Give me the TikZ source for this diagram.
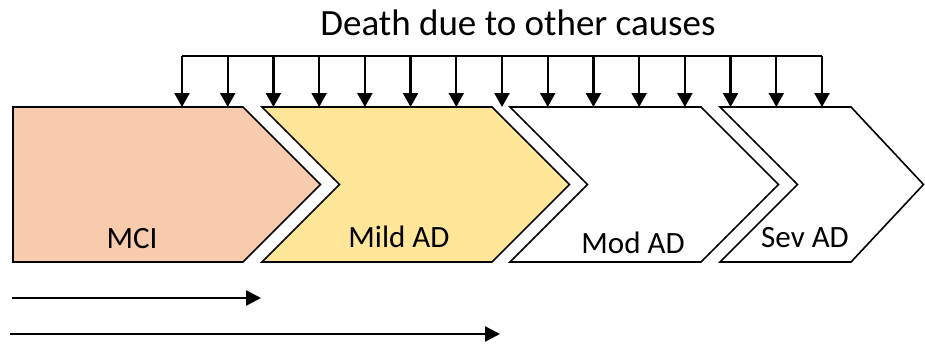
\documentclass[tikz,border=0pt]{standalone}
\usepackage{fontspec}
\setmainfont{Carlito}
\usetikzlibrary{arrows.meta}
\definecolor{mcifill}{HTML}{F8CBAD}
\definecolor{mildfill}{HTML}{FFE699}
\begin{document}
\begin{tikzpicture}[x=1pt,y=-1pt,
  stage/.style={draw=black,line width=1.6pt,line join=miter},
  lbl/.style={font=\fontsize{31}{31}\selectfont,anchor=base,inner sep=0pt},
  ttl/.style={font=\fontsize{37}{37}\selectfont,anchor=base,inner sep=0pt},
  drop/.style={-{Triangle[length=14pt,width=15pt]},line width=2.2pt},
  span/.style={-{Triangle[length=15pt,width=15pt]},line width=2.4pt}]
\useasboundingbox (0,0) rectangle (925,346);

% stage chevrons
\path[stage,fill=mcifill] (13,107) -- (243,107) -- (320.5,184.5) -- (243,262) -- (13,262) -- cycle;
\path[stage,fill=mildfill] (262,107) -- (492,107) -- (569.5,184.5) -- (492,262) -- (262,262) -- (339.5,184.5) -- cycle;
\path[stage,fill=white] (510,107) -- (701,107) -- (778.5,184.5) -- (701,262) -- (510,262) -- (587.5,184.5) -- cycle;
\path[stage,fill=white] (720,107) -- (851,107) -- (923.5,184.5) -- (851,262) -- (720,262) -- (797.5,184.5) -- cycle;

% stage labels
\node[lbl] (mci)  at (132,248) {MCI};
\node[lbl] (mild) at (399,247) {Mild AD};
\node[lbl] (mod)  at (633,253) {Mod AD};
\node[lbl] (sev)  at (805,247) {Sev AD};

% competing mortality
\node[ttl] (title) at (518,35) {Death due to other causes};
\coordinate (busL) at (182,56);
\coordinate (busR) at (822,56);
\draw[line width=1.5pt] (busL) -- (busR);
\foreach \i in {0,...,14}{
  \pgfmathsetmacro{\xx}{182+\i*640/14}
  \coordinate (top\i) at (\xx,56);
  \coordinate (hit\i) at (\xx,107);
  \draw[drop] (top\i) -- (hit\i);
}

% time spans
\coordinate (s1a) at (12,298);
\coordinate (s1b) at (261,298);
\coordinate (s2a) at (10,334);
\coordinate (s2b) at (500,334);
\draw[span] (s1a) -- (s1b);
\draw[span] (s2a) -- (s2b);
\end{tikzpicture}
\end{document}
